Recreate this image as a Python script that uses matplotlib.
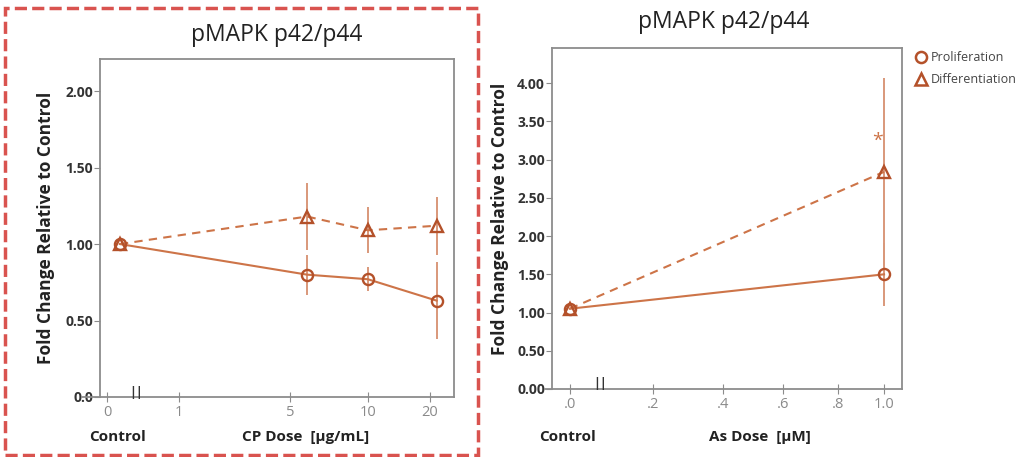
import numpy as np
import matplotlib
matplotlib.use("Agg")
import matplotlib.pyplot as plt
from matplotlib.patches import Rectangle
from matplotlib.lines import Line2D

plt.rcParams['font.family'] = ['Open Sans', 'DejaVu Sans']

# ---------------- data ----------------
title = "pMAPK p42/p44"
ylabel = "Fold Change Relative to Control"

# CP panel
cp_x = [0.18, 6.1, 10, 21.1]
cp_prolif = [1.00, 0.80, 0.77, 0.63]
cp_prolif_err = [0.0, 0.13, 0.08, 0.25]
cp_diff = [1.00, 1.18, 1.09, 1.12]
cp_diff_err = [0.0, 0.22, 0.15, 0.19]
cp_xticks = [0, 1, 5, 10, 20]
cp_xticklabels = ["0", "1", "5", "10", "20"]
cp_yticks = [0.0, 0.5, 1.0, 1.5, 2.0]
cp_yticklabels = ["0.0", "0.50", "1.00", "1.50", "2.00"]

# As panel
as_x = [0.0, 1.0]
as_prolif = [1.05, 1.50]
as_prolif_err = [0.0, 0.41]
as_diff = [1.05, 2.84]
as_diff_err = [0.0, 1.23]
as_star = (0.97, 3.24)
as_xticks = [0.0, 0.2, 0.4, 0.6, 0.8, 1.0]
as_xticklabels = [".0", ".2", ".4", ".6", ".8", "1.0"]
as_yticks = [0.0, 0.5, 1.0, 1.5, 2.0, 2.5, 3.0, 3.5, 4.0]
as_yticklabels = ["0.00", "0.50", "1.00", "1.50", "2.00", "2.50", "3.00", "3.50", "4.00"]

# -------------- style -----------------
LINE = "#cd7448"
MARK = "#b4512a"
ERR = "#d9987a"
TXT = "#222222"
GRAY = "#8a8a8a"
SPINE = "#8c8c8c"

fig = plt.figure(figsize=(10.26, 4.57), dpi=100)


def make_scale(ax, anchors, pos):
    anchors = np.asarray(anchors, float)
    pos = np.asarray(pos, float)
    fwd = lambda v: np.interp(v, anchors, pos)
    inv = lambda v: np.interp(v, pos, anchors)
    ax.set_xscale('function', functions=(fwd, inv))


def style_axes(ax, yticks, yticklabels, xticks, xticklabels):
    for s in ax.spines.values():
        s.set_color(SPINE)
        s.set_linewidth(1.3)
    ax.set_yticks(yticks)
    ax.set_yticklabels(yticklabels, fontsize=10, fontweight='bold', color="#333333")
    ax.set_xticks(xticks)
    ax.set_xticklabels(xticklabels, fontsize=10.5, color=GRAY)
    ax.tick_params(axis='y', direction='out', length=4, color=SPINE, pad=1)
    ax.tick_params(axis='x', direction='inout', length=7, color=SPINE, pad=2)
    ax.minorticks_off()


def draw_series(ax, x, prolif, perr, diff, derr):
    ax.errorbar(x[1:], prolif[1:], yerr=perr[1:], fmt='none', ecolor=ERR, elinewidth=1.4, capsize=0, zorder=2)
    ax.errorbar(x[1:], diff[1:], yerr=derr[1:], fmt='none', ecolor=ERR, elinewidth=1.4, capsize=0, zorder=2)
    ax.plot(x, prolif, color=LINE, lw=1.5, zorder=3)
    ax.plot(x, diff, color=LINE, lw=1.5, ls=(0, (4, 3)), zorder=3)
    ax.plot(x, prolif, 'o', ms=8, mfc='none', mec=MARK, mew=1.7, zorder=4, clip_on=False)
    ax.plot(x, diff, '^', ms=8, mfc='none', mec=MARK, mew=1.7, zorder=4, clip_on=False)


# ---------- left panel ----------
ax1 = fig.add_axes([100/1026, 1-397/457, 354/1026, 338/457])
make_scale(ax1, [-1, 0, 1, 5, 10, 20, 40], [35, 107, 179, 290, 368, 430, 554])
ax1.set_xlim(-0.097, 23.9)
ax1.set_ylim(0, 2.21)
draw_series(ax1, cp_x, cp_prolif, cp_prolif_err, cp_diff, cp_diff_err)
style_axes(ax1, cp_yticks, cp_yticklabels, cp_xticks, cp_xticklabels)
ax1.set_ylabel(ylabel, fontsize=12.5, fontweight='bold', color=TXT)
ax1.yaxis.set_label_coords(-45/354, 0.5)
ax1.text(0.5, 1.0 + 24/338, title, transform=ax1.transAxes, ha='center', va='center', fontsize=16.5, color=TXT)
ax1.plot([-0.05, 0], [0, 0], transform=ax1.transAxes, color=SPINE, lw=1.3, clip_on=False)
ax1.text(36/354, 0.012, "||", transform=ax1.transAxes, ha='center', va='center', fontsize=9, fontweight='bold', color="#333333")
ax1.text(18/354, -40/338, "Control", transform=ax1.transAxes, ha='center', va='center', fontsize=11, fontweight='bold', color=TXT)
ax1.text(206/354, -40/338, "CP Dose  [µg/mL]", transform=ax1.transAxes, ha='center', va='center', fontsize=11, fontweight='bold', color=TXT)

# ---------- right panel ----------
ax2 = fig.add_axes([552/1026, 1-389/457, 350/1026, 341/457])
make_scale(ax2, [-0.2, 0, 0.2, 0.4, 0.6, 0.8, 1.0, 1.2], [487, 570, 653, 723, 783, 838, 884, 930])
ax2.set_xlim(-0.043, 1.078)
ax2.set_ylim(0, 4.46)
draw_series(ax2, as_x, as_prolif, as_prolif_err, as_diff, as_diff_err)
style_axes(ax2, as_yticks, as_yticklabels, as_xticks, as_xticklabels)
ax2.set_ylabel(ylabel, fontsize=12.5, fontweight='bold', color=TXT)
ax2.yaxis.set_label_coords(-43/350, 0.5)
ax2.text(0.49, 1.0 + 26/341, title, transform=ax2.transAxes, ha='center', va='center', fontsize=16.5, color=TXT)
ax2.text(as_star[0], as_star[1], "*", ha='center', va='center', fontsize=14, color=LINE)
ax2.plot([-0.02, 0], [0, 0], transform=ax2.transAxes, color=SPINE, lw=1.3, clip_on=False)
ax2.text(48/350, 0.017, "||", transform=ax2.transAxes, ha='center', va='center', fontsize=9, fontweight='bold', color="#333333")
ax2.text(16/350, -48/341, "Control", transform=ax2.transAxes, ha='center', va='center', fontsize=11, fontweight='bold', color=TXT)
ax2.text(208/350, -48/341, "As Dose  [µM]", transform=ax2.transAxes, ha='center', va='center', fontsize=11, fontweight='bold', color=TXT)

# legend
handles = [Line2D([], [], marker='o', ls='none', mfc='none', mec=MARK, mew=1.8, ms=8, label='Proliferation'),
           Line2D([], [], marker='^', ls='none', mfc='none', mec=MARK, mew=1.8, ms=8, label='Differentiation')]
fig.legend(handles=handles, loc='upper left', bbox_to_anchor=(908/1026, 1-46/457), frameon=False,
           fontsize=9, handletextpad=0.2, handlelength=1.2, labelspacing=0.75, borderaxespad=0,
           labelcolor="#444444")

# red dashed frame around the left panel
fig.patches.append(Rectangle((5/1026, 2/457), 473/1026, 447/457, transform=fig.transFigure,
                             fill=False, ec="#d9534f", lw=2.5, ls=(0, (3.5, 1.5))))

fig.savefig("out.png", dpi=100)
